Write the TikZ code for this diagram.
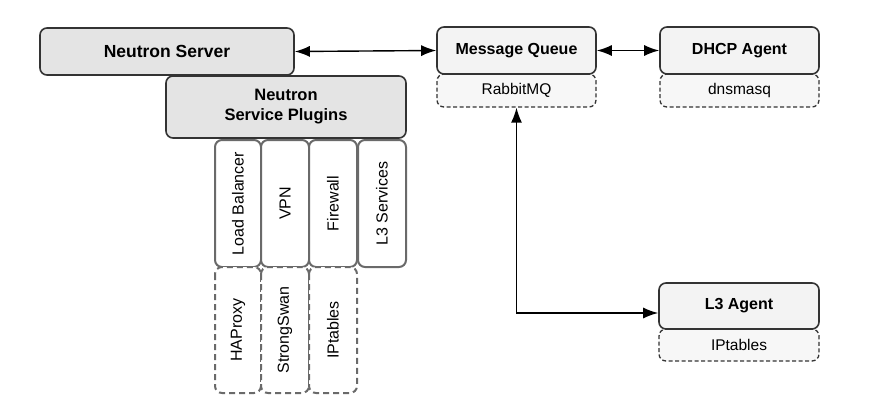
\documentclass[tikz,border=0pt]{standalone}
\usepackage{fontspec}
\setmainfont{Liberation Sans}
\usetikzlibrary{arrows.meta}
\definecolor{boxgrey}{HTML}{E4E4E4}
\definecolor{lightbox}{HTML}{F3F3F3}
\definecolor{dashfill}{HTML}{F7F7F7}
\definecolor{edge}{HTML}{333333}
\definecolor{pluginedge}{HTML}{6A6A6A}
\tikzset{
  mainbox/.style={draw=edge, line width=1.6pt, rounded corners=7pt, fill=boxgrey, font=\fontsize{16}{19}\selectfont\bfseries, align=center, inner sep=0pt},
  agentbox/.style={mainbox, fill=lightbox},
  subbox/.style={draw=edge, line width=1.3pt, dash pattern=on 4pt off 2.5pt, rounded corners=7pt, fill=dashfill, font=\fontsize{15.5}{18}\selectfont, inner sep=0pt},
  pluginbox/.style={draw=pluginedge, line width=2pt, rounded corners=7pt, fill=white, font=\fontsize{16}{19}\selectfont, inner sep=0pt, rotate=90},
  backendbox/.style={pluginbox, dash pattern=on 6pt off 4pt},
  link/.style={draw=black, line width=1.4pt, {Latex[length=15pt,width=11pt]}-{Latex[length=15pt,width=11pt]}}
}
\begin{document}
\begin{tikzpicture}[x=1pt,y=-1pt]
\useasboundingbox (0,0) rectangle (893,405);
% Neutron server side
\node[mainbox, minimum width=254pt, minimum height=47pt, font=\fontsize{17.5}{20}\selectfont\bfseries] (server) at (167,51.5) {Neutron Server};
\node[mainbox, minimum width=240pt, minimum height=62pt, font=\fontsize{16.5}{20}\selectfont\bfseries] (plugins) at (286,107) {Neutron\\Service Plugins};
% plugins
\node[pluginbox, minimum width=127pt, minimum height=46pt] (lb) at (238,203.5) {Load Balancer};
\node[pluginbox, minimum width=127pt, minimum height=48pt] (vpn) at (285,203.5) {VPN};
\node[pluginbox, minimum width=127pt, minimum height=48pt] (fw) at (333,203.5) {Firewall};
\node[pluginbox, minimum width=127pt, minimum height=48pt] (l3s) at (382,203.5) {L3 Services};
% backends
\node[backendbox, minimum width=126pt, minimum height=46pt] (haproxy) at (238,330) {HAProxy};
\node[backendbox, minimum width=126pt, minimum height=48pt] (strongswan) at (285,330) {StrongSwan};
\node[backendbox, minimum width=126pt, minimum height=48pt] (iptables) at (333,330) {IPtables};
% message queue
\node[subbox, minimum width=159pt, minimum height=33pt] (rabbit) at (516.5,90.5) {RabbitMQ};
\node[agentbox, minimum width=159pt, minimum height=47pt] (mq) at (516.5,50.5) {Message Queue};
% dhcp agent
\node[subbox, minimum width=159pt, minimum height=33pt] (dnsmasq) at (739.5,90.5) {dnsmasq};
\node[agentbox, minimum width=159pt, minimum height=47pt] (dhcp) at (739.5,50.5) {DHCP Agent};
% l3 agent
\node[subbox, minimum width=160pt, minimum height=32pt] (l3ipt) at (739,345) {IPtables};
\node[agentbox, minimum width=160pt, minimum height=46pt] (l3a) at (739,306) {L3 Agent};
% connectors
\draw[link] (server.east) -- (mq.west);
\draw[link] (mq.east) -- (dhcp.west);
\draw[link] (rabbit.south) |- ([yshift=-7pt]l3a.west);
\end{tikzpicture}
\end{document}
